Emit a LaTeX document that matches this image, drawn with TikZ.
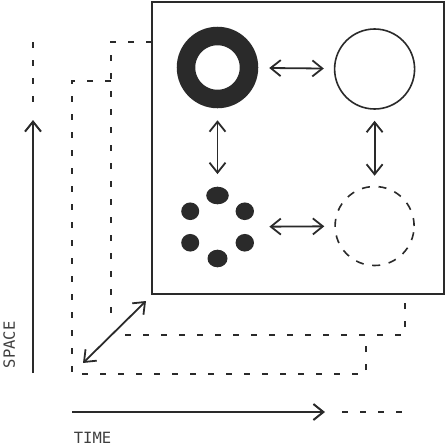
\documentclass[tikz,border=0pt]{standalone}
\usepackage{fontspec}
\setmonofont{DejaVu Sans Mono}
\usetikzlibrary{arrows.meta}
\definecolor{ink}{HTML}{2A2A2A}

\begin{document}
\begin{tikzpicture}[x=1pt,y=-1pt,
      ink, line width=1.8pt,
      chevron/.tip={Straight Barb[length=10pt,width=16pt]},
      swap/.style={chevron-chevron, shorten <=11pt, shorten >=10pt},
      trace/.style={line width=2pt, dash pattern=on 6pt off 12pt},
      axislabel/.style={font=\ttfamily\fontsize{15.5}{15.5}\selectfont, text=ink!90,
                        inner sep=0pt, anchor=base west}]
      \useasboundingbox (0,0) rectangle (446,448);

      % layers behind the frame
      \draw[trace] (111,81) -- (72,81) -- (72,374) -- (366,374) -- (366,335);
      \draw[trace] (152,42) -- (111,42) -- (111,316);
      \draw[trace] (125,335) -- (405,335) -- (405,294);

      % frame and the four states
      \node[draw, fill=white, line width=2.2pt, inner sep=0pt,
            minimum width=292.3pt, minimum height=292pt] (frame) at (298.15,148) {};
      \node[circle, draw, line width=18.5pt, inner sep=0pt, minimum size=63pt] (ring) at (217.5,67.5) {};
      \node[circle, draw, line width=1.6pt, inner sep=0pt, minimum size=80pt] (whole) at (374.6,69) {};
      \node[circle, draw, line width=1.6pt, dash pattern=on 8pt off 8.7pt, inner sep=0pt, minimum size=79pt] (ghost) at (374.6,226) {};
      \node[circle, inner sep=0pt, minimum size=80pt] (scatter) at (217.5,227) {};
      \foreach \a/\rx in {270/11.3, 30/9.2, 150/9, 210/9, 90/10, 330/9.2}
        \fill (scatter.center) ++(\a:31.5) ellipse [x radius=\rx pt, y radius=8.8pt];

      \draw[swap] (ring) -- (whole);
      \draw[swap] (scatter) -- (ghost);
      \draw[swap, shorten <=12pt, shorten >=12pt] (ring) -- (scatter);
      \draw[swap] (whole) -- (ghost);

      % axes
      \coordinate (near) at (83,363);
      \coordinate (far) at (146,301);
      \draw[chevron-chevron] (near) -- (far);

      \coordinate (space-0) at (33,373);
      \coordinate (space-1) at (33,120);
      \draw[line width=2pt, -chevron] (space-0) -- (space-1);
      \draw[trace] (33,42) -- (33,103);
      \node[axislabel, rotate=90] (space) at (15,369) {SPACE};

      \coordinate (time-0) at (72,412);
      \coordinate (time-1) at (325,412);
      \draw[line width=2pt, -chevron] (time-0) -- (time-1);
      \draw[trace] (342,412) -- (403,412);
      \node[axislabel] (time) at (73,443) {TIME};
    \end{tikzpicture}
\end{document}
